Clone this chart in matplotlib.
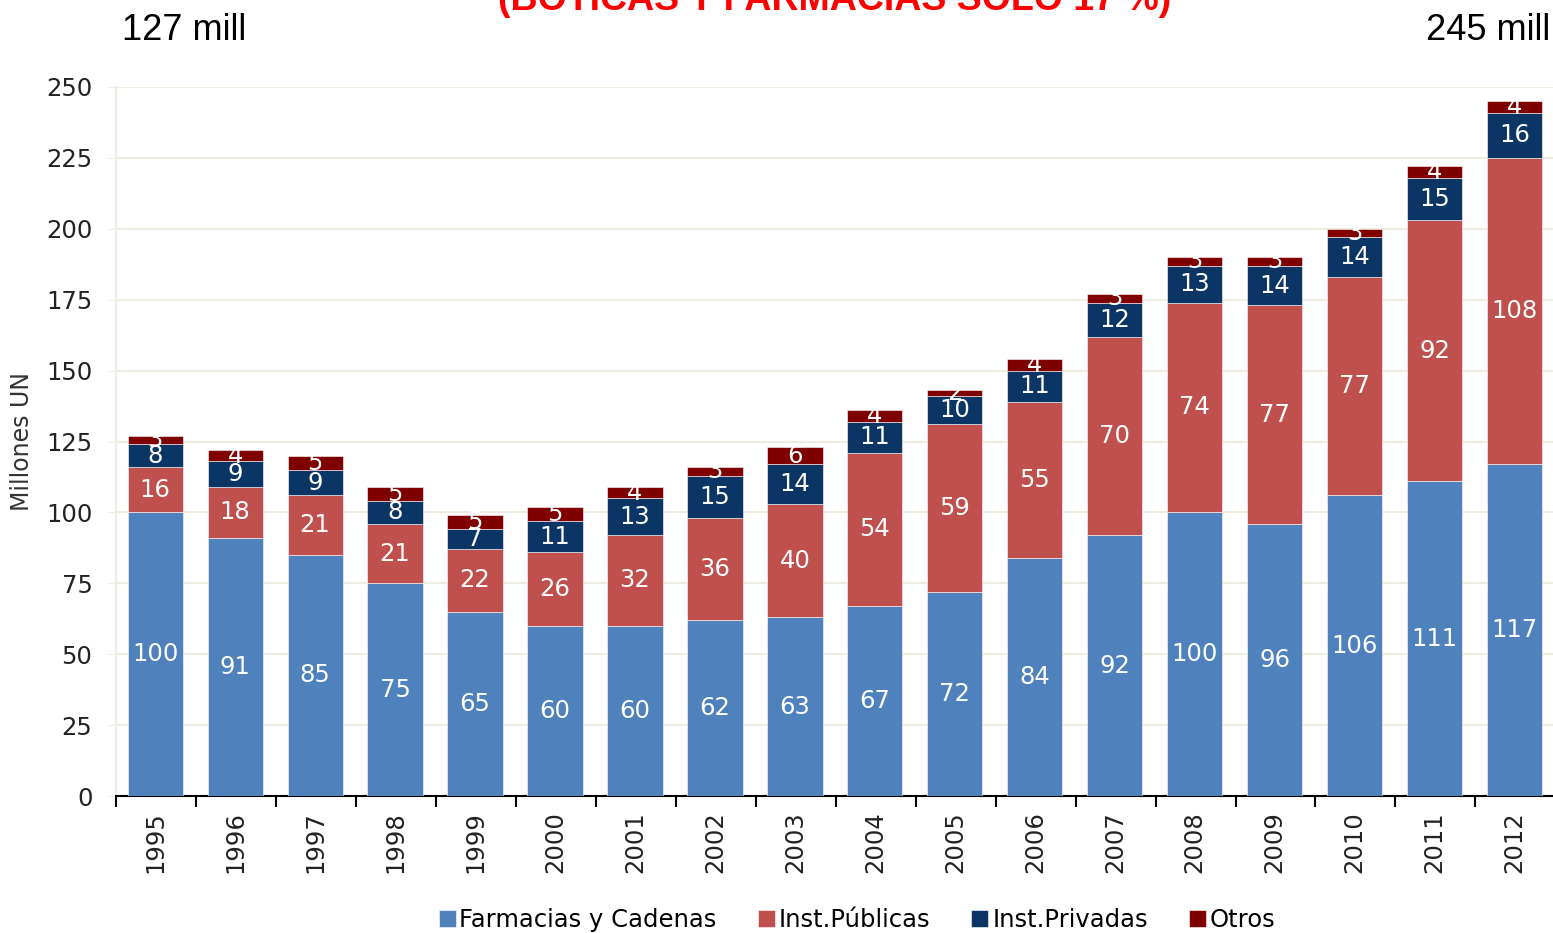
import numpy as np
import matplotlib.pyplot as plt
from matplotlib.ticker import FixedLocator

years = ['1995', '1996', '1997', '1998', '1999', '2000', '2001', '2002', '2003',
         '2004', '2005', '2006', '2007', '2008', '2009', '2010', '2011', '2012']
farmacias = [100, 91, 85, 75, 65, 60, 60, 62, 63, 67, 72, 84, 92, 100, 96, 106, 111, 117]
publicas = [16, 18, 21, 21, 22, 26, 32, 36, 40, 54, 59, 55, 70, 74, 77, 77, 92, 108]
privadas = [8, 9, 9, 8, 7, 11, 13, 15, 14, 11, 10, 11, 12, 13, 14, 14, 15, 16]
otros = [3, 4, 5, 5, 5, 5, 4, 3, 6, 4, 2, 4, 3, 3, 3, 3, 4, 4]

series = [farmacias, publicas, privadas, otros]
names = ['Farmacias y Cadenas', 'Inst.Públicas', 'Inst.Privadas', 'Otros']
colores = ['#4F81BD', '#C0504D', '#0B3564', '#7F0000']

fig = plt.figure(figsize=(15.53, 9.33), dpi=100)
ax = fig.add_axes([116 / 1553, 1 - 796 / 933, 1 - 116 / 1553, (796 - 87) / 933])

x = np.arange(len(years))
bottom = np.zeros(len(years))
for vals, name, col in zip(series, names, colores):
    vals = np.array(vals, dtype=float)
    ax.bar(x, vals, 0.69, bottom=bottom, color=col, label=name,
           edgecolor='white', linewidth=0.4, zorder=3)
    for xi, b, v in zip(x, bottom, vals):
        ax.text(xi, b + v / 2, str(int(v)), ha='center', va='center',
                color='white', fontsize=17.5, zorder=4)
    bottom += vals

ax.set_xlim(-0.49, 17.48)
ax.set_ylim(0, 250)
ax.set_yticks(np.arange(0, 251, 25))
ax.tick_params(axis='y', labelsize=17.5, length=6, color='#EEEBE0', pad=11, labelcolor='#222222')
ax.yaxis.grid(True, color='#EEEBE0', linewidth=1.5, zorder=0)
ax.set_xticks(x)
ax.set_xticklabels(years, rotation=90, fontsize=17.5, color='#222222')
ax.tick_params(axis='x', which='major', length=0, pad=11)
ax.xaxis.set_minor_locator(FixedLocator(np.arange(-0.49, 18, 1.0)))
ax.tick_params(axis='x', which='minor', length=8, width=1.5, color='black')
ax.set_ylabel('Millones UN', fontsize=17, color='#333333')
ax.yaxis.set_label_coords(-(116 - 34) / (1553 - 116), 0.5)

for s in ['top', 'right']:
    ax.spines[s].set_visible(False)
ax.spines['left'].set_color('#EEEBE0')
ax.spines['left'].set_linewidth(1.5)
ax.spines['bottom'].set_color('black')
ax.spines['bottom'].set_linewidth(1.5)

fig.legend(loc='center', bbox_to_anchor=(857 / 1553, 1 - 920 / 933), ncol=4, frameon=False,
           fontsize=17.5, handlelength=0.7, handleheight=0.7, handletextpad=0.15,
           columnspacing=1.7)

fig.text(122 / 1553, 1 - 40 / 933, '127 mill', fontsize=26, family='Liberation Sans',
         ha='left', va='baseline')
fig.text(1550 / 1553, 1 - 40 / 933, '245 mill', fontsize=26, family='Liberation Sans',
         ha='right', va='baseline')
fig.text(835 / 1553, 1 - 10 / 933, '(BOTICAS Y FARMACIAS SOLO 17 %)', fontsize=27,
         family='Liberation Sans', weight='bold', color='red', ha='center', va='baseline')

fig.savefig('out.png', dpi=100)
